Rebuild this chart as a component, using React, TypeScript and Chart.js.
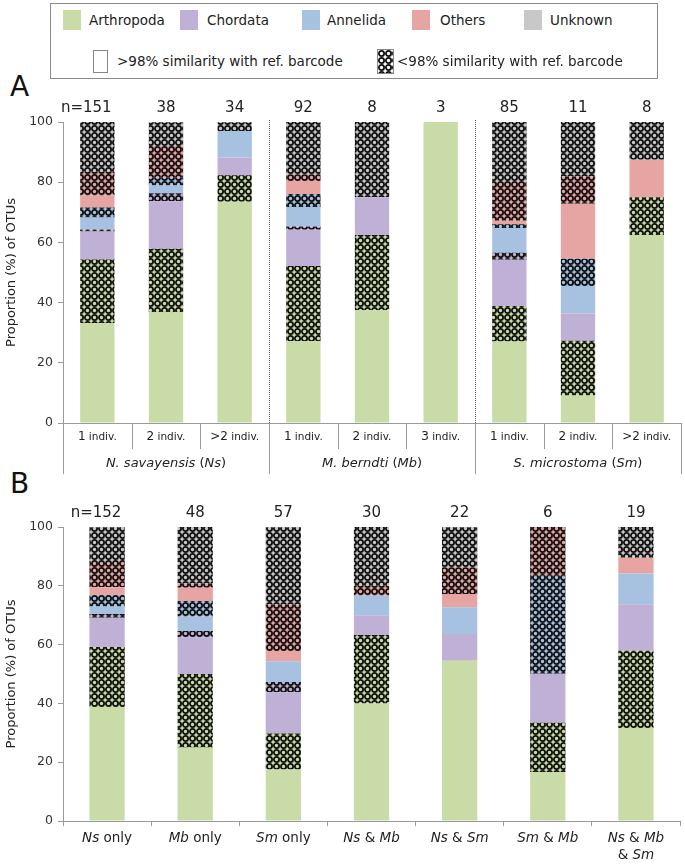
import React, { useEffect, useRef } from "react";
import { Chart, registerables } from "chart.js";

Chart.register(...registerables);

const FONT = "'DejaVu Sans', sans-serif";
const TXT = "#222";
const AXIS = "#9a9a9a";

// ---------- Panel A data (percent of OTUs) ----------
const subgroupsA = ["1", "2", ">2", "1", "2", "3", "1", "2", ">2"];
const speciesA = ["N. savayensis", "M. berndti", "S. microstoma"];
const abbrevA = ["Ns", "Mb", "Sm"];
const countsA = ["n=151", "38", "34", "92", "8", "3", "85", "11", "8"];
const arthSolidA = [33.1, 36.8, 73.5, 27.2, 37.5, 100, 27.1, 9.1, 62.5];
const arthHatchA = [21.2, 21.1, 8.8, 25.0, 25.0, 0, 11.8, 18.2, 12.5];
const chordSolidA = [9.3, 15.8, 5.9, 12.0, 12.5, 0, 15.3, 9.1, 0];
const chordHatchA = [0.7, 2.6, 0, 1.1, 0, 0, 2.4, 0, 0];
const annSolidA = [4.0, 2.6, 8.8, 6.5, 0, 0, 8.2, 9.1, 0];
const annHatchA = [3.3, 2.6, 0, 4.3, 0, 0, 1.2, 9.1, 0];
const othSolidA = [4.0, 0, 0, 4.3, 0, 0, 1.2, 18.2, 12.5];
const othHatchA = [7.9, 10.5, 0, 2.2, 0, 0, 12.9, 9.1, 0];
const unkHatchA = [16.6, 7.9, 2.9, 17.4, 25.0, 0, 20.0, 18.2, 12.5];

// ---------- Panel B data (percent of OTUs) ----------
const labelsB = [["Ns only"], ["Mb only"], ["Sm only"], ["Ns & Mb"], ["Ns & Sm"], ["Sm & Mb"], ["Ns & Mb", "& Sm"]];
const countsB = ["n=152", "48", "57", "30", "22", "6", "19"];
const arthSolidB = [38.8, 25.0, 17.5, 40.0, 54.5, 16.7, 31.6];
const arthHatchB = [20.4, 25.0, 12.3, 23.3, 0, 16.7, 26.3];
const chordSolidB = [9.9, 12.5, 14.0, 6.7, 9.1, 16.7, 15.8];
const chordHatchB = [1.3, 2.1, 3.5, 0, 0, 0, 0];
const annSolidB = [2.6, 5.0, 7.0, 6.7, 9.1, 0, 10.5];
const annHatchB = [3.9, 5.2, 0, 0, 0, 33.3, 0];
const othSolidB = [2.6, 4.5, 3.5, 0, 4.5, 0, 5.3];
const othHatchB = [8.6, 1.5, 15.8, 3.3, 9.1, 16.7, 0];
const unkHatchB = [11.8, 19.2, 26.3, 20.0, 13.6, 0, 10.5];

const yTicks = [0, 20, 40, 60, 80, 100];
const yTitle = "Proportion (%) of OTUs";
const abbrevTokens = ["Ns", "Mb", "Sm"];

const COLORS = {
  arth: "#c9dba7",
  chord: "#bfb0d5",
  ann: "#a7c1e1",
  oth: "#e6a5a3",
  unk: "#c8c8c8",
};

const legendPhyla = [
  { name: "Arthropoda", color: COLORS.arth, sx: 63, tx: 89 },
  { name: "Chordata", color: COLORS.chord, sx: 180, tx: 207 },
  { name: "Annelida", color: COLORS.ann, sx: 302, tx: 327 },
  { name: "Others", color: COLORS.oth, sx: 412, tx: 440 },
  { name: "Unknown", color: COLORS.unk, sx: 524, tx: 550 },
];

function hatchCanvas(color: string) {
  const c = document.createElement("canvas");
  c.width = 7;
  c.height = 7;
  const g = c.getContext("2d")!;
  g.fillStyle = color;
  g.fillRect(0, 0, 7, 7);
  g.strokeStyle = "#111";
  g.lineWidth = 1.8;
  g.beginPath();
  g.arc(3.5, 3.5, 2.6, 0, Math.PI * 2);
  g.stroke();
  return c;
}

function makeHatch(color: string) {
  const c = hatchCanvas(color);
  return c.getContext("2d")!.createPattern(c, "repeat")!;
}

function buildDatasets(series: number[][]) {
  const fills = [
    COLORS.arth, makeHatch(COLORS.arth),
    COLORS.chord, makeHatch(COLORS.chord),
    COLORS.ann, makeHatch(COLORS.ann),
    COLORS.oth, makeHatch(COLORS.oth),
    makeHatch(COLORS.unk),
  ];
  const names = [
    "Arthropoda >98%", "Arthropoda <98%",
    "Chordata >98%", "Chordata <98%",
    "Annelida >98%", "Annelida <98%",
    "Others >98%", "Others <98%",
    "Unknown <98%",
  ];
  return series.map((d, i) => ({
    label: names[i],
    data: d,
    backgroundColor: fills[i] as any,
    borderWidth: 0,
    stack: "s",
  }));
}

function drawCount(ctx: CanvasRenderingContext2D, label: string, cx: number, cy: number) {
  ctx.font = `15px ${FONT}`;
  ctx.fillStyle = TXT;
  ctx.textBaseline = "middle";
  if (label.startsWith("n=")) {
    const num = label.slice(2);
    ctx.textAlign = "center";
    ctx.fillText(num, cx, cy);
    const w = ctx.measureText(num).width;
    ctx.textAlign = "right";
    ctx.fillText("n=", cx - w / 2, cy);
  } else {
    ctx.textAlign = "center";
    ctx.fillText(label, cx, cy);
  }
}

function drawRuns(ctx: CanvasRenderingContext2D, runs: [string, string][], cx: number, baseline: number) {
  let total = 0;
  const ws = runs.map(([t, f]) => {
    ctx.font = f;
    const w = ctx.measureText(t).width;
    total += w;
    return w;
  });
  let x = cx - total / 2;
  ctx.textAlign = "left";
  ctx.textBaseline = "alphabetic";
  ctx.fillStyle = TXT;
  runs.forEach(([t, f], i) => {
    ctx.font = f;
    ctx.fillText(t, x, baseline);
    x += ws[i];
  });
}

function vline(ctx: CanvasRenderingContext2D, x: number, y0: number, y1: number) {
  ctx.beginPath();
  ctx.moveTo(x, y0);
  ctx.lineTo(x, y1);
  ctx.stroke();
}

const panelAPlugin = {
  id: "panelA",
  afterDraw(chart: any) {
    const { ctx, chartArea: ca } = chart;
    const x = chart.scales.x;
    const half = (x.getPixelForValue(1) - x.getPixelForValue(0)) / 2;
    ctx.save();
    countsA.forEach((t, i) => drawCount(ctx, t, x.getPixelForValue(i), ca.top - 14));
    // dotted separators between species
    ctx.strokeStyle = "#555";
    ctx.lineWidth = 1;
    ctx.setLineDash([1, 1]);
    for (const i of [3, 6]) {
      const px = Math.round(x.getPixelForValue(i) - half) + 0.5;
      vline(ctx, px, ca.top - 2, ca.bottom);
    }
    ctx.setLineDash([]);
    // table lines under the axis
    ctx.strokeStyle = AXIS;
    for (let i = 0; i <= subgroupsA.length; i++) {
      const px = Math.round(x.getPixelForValue(0) - half + i * 2 * half) + 0.5;
      const long = i % 3 === 0;
      vline(ctx, px, ca.bottom, ca.bottom + (long ? 51 : 26));
    }
    // row 1: individuals
    subgroupsA.forEach((s, i) => {
      drawRuns(ctx, [[s, `12px ${FONT}`], [" indiv.", `10.5px ${FONT}`]], x.getPixelForValue(i), ca.bottom + 17);
    });
    // row 2: species
    speciesA.forEach((sp, g) => {
      const cx = x.getPixelForValue(g * 3 + 1);
      drawRuns(
        ctx,
        [
          [sp + " ", `italic 13px ${FONT}`],
          ["(", `13px ${FONT}`],
          [abbrevA[g], `italic 13px ${FONT}`],
          [")", `13px ${FONT}`],
        ],
        cx,
        ca.bottom + 44
      );
    });
    ctx.restore();
  },
};

const panelBPlugin = {
  id: "panelB",
  afterDraw(chart: any) {
    const { ctx, chartArea: ca } = chart;
    const x = chart.scales.x;
    ctx.save();
    countsB.forEach((t, i) => drawCount(ctx, t, x.getPixelForValue(i), ca.top - 14));
    labelsB.forEach((lines, i) => {
      lines.forEach((line, li) => {
        const tokens = line.split(" ");
        const runs: [string, string][] = tokens.map((tok, ti) => [
          tok + (ti < tokens.length - 1 ? " " : ""),
          abbrevTokens.includes(tok) ? `italic 13.5px ${FONT}` : `13.5px ${FONT}`,
        ]);
        drawRuns(ctx, runs, x.getPixelForValue(i), ca.bottom + 21 + li * 17);
      });
    });
    ctx.restore();
  },
};

function makeOptions(xHeight: number, padTop: number, padRight: number, gridX: any) {
  return {
    responsive: false,
    animation: false as const,
    layout: { padding: { top: padTop, right: padRight, left: 0, bottom: 0 } },
    plugins: { legend: { display: false }, tooltip: { enabled: false } },
    scales: {
      x: {
        stacked: true,
        ticks: { display: false },
        grid: gridX,
        border: { display: true, color: AXIS },
        afterFit: (s: any) => {
          s.height = xHeight;
        },
      },
      y: {
        stacked: true,
        min: 0,
        max: 100,
        afterBuildTicks: (s: any) => {
          s.ticks = yTicks.map((v) => ({ value: v }));
        },
        ticks: {
          font: { family: FONT, size: 12.5 },
          color: "#333",
          padding: 5,
        },
        grid: { display: true, drawOnChartArea: false, drawTicks: true, tickLength: 5, color: AXIS },
        border: { display: true, color: AXIS },
        title: {
          display: true,
          text: yTitle,
          font: { family: FONT, size: 13 },
          color: TXT,
          padding: { top: 4, bottom: 0 },
        },
        afterFit: (s: any) => {
          s.width = 63;
        },
      },
    },
  };
}

function LegendHatch() {
  const ref = useRef<HTMLCanvasElement>(null);
  useEffect(() => {
    const g = ref.current!.getContext("2d")!;
    g.fillStyle = g.createPattern(hatchCanvas("#ffffff"), "repeat")!;
    g.fillRect(0, 0, 15, 23);
  }, []);
  return (
    <canvas
      ref={ref}
      width={15}
      height={23}
      style={{ position: "absolute", left: 378, top: 50, width: 15, height: 23, outline: "1px solid #888" }}
    />
  );
}

export default function App() {
  const refA = useRef<HTMLCanvasElement>(null);
  const refB = useRef<HTMLCanvasElement>(null);

  useEffect(() => {
    const chartA = new Chart(refA.current!, {
      type: "bar",
      data: {
        labels: subgroupsA.map((s) => s + " indiv."),
        datasets: buildDatasets([
          arthSolidA, arthHatchA, chordSolidA, chordHatchA, annSolidA, annHatchA, othSolidA, othHatchA, unkHatchA,
        ]).map((d) => ({ ...d, barPercentage: 0.5, categoryPercentage: 1 })),
      },
      options: makeOptions(72, 32, 4, { display: false }) as any,
      plugins: [panelAPlugin],
    });
    const chartB = new Chart(refB.current!, {
      type: "bar",
      data: {
        labels: labelsB.map((l) => l.join(" ")),
        datasets: buildDatasets([
          arthSolidB, arthHatchB, chordSolidB, chordHatchB, annSolidB, annHatchB, othSolidB, othHatchB, unkHatchB,
        ]).map((d) => ({ ...d, barPercentage: 0.4, categoryPercentage: 1 })),
      },
      options: makeOptions(47, 30, 5, {
        display: true,
        offset: true,
        drawOnChartArea: false,
        drawTicks: true,
        tickLength: 5,
        color: AXIS,
      }) as any,
      plugins: [panelBPlugin],
    });
    return () => {
      chartA.destroy();
      chartB.destroy();
    };
  }, []);

  const textStyle: React.CSSProperties = {
    position: "absolute",
    fontFamily: FONT,
    fontSize: 13.5,
    color: TXT,
    whiteSpace: "nowrap",
    lineHeight: "20px",
  };

  return (
    <div style={{ position: "absolute", left: 0, top: 0, width: 685, height: 868, background: "#fff", overflow: "hidden" }}>
      {/* Legend */}
      <div style={{ position: "absolute", left: 50, top: 3, width: 606, height: 74, border: "1px solid #8a8a8a" }} />
      {legendPhyla.map((p) => (
        <React.Fragment key={p.name}>
          <div style={{ position: "absolute", left: p.sx, top: 10, width: 18, height: 20, background: p.color }} />
          <div style={{ ...textStyle, left: p.tx, top: 10 }}>{p.name}</div>
        </React.Fragment>
      ))}
      <div style={{ position: "absolute", left: 93, top: 50, width: 13, height: 21, border: "1px solid #888", background: "#fff" }} />
      <div style={{ ...textStyle, left: 117, top: 51 }}>&gt;98% similarity with ref. barcode</div>
      <LegendHatch />
      <div style={{ ...textStyle, left: 397, top: 51 }}>&lt;98% similarity with ref. barcode</div>

      {/* Panel letters */}
      <div style={{ position: "absolute", left: 10, top: 72, fontFamily: FONT, fontSize: 28, color: "#111", lineHeight: "30px" }}>A</div>
      <div style={{ position: "absolute", left: 10, top: 469, fontFamily: FONT, fontSize: 28, color: "#111", lineHeight: "30px" }}>B</div>

      <canvas ref={refA} width={685} height={405} style={{ position: "absolute", left: 0, top: 90, width: 685, height: 405 }} />
      <canvas ref={refB} width={685} height={371} style={{ position: "absolute", left: 0, top: 497, width: 685, height: 371 }} />
    </div>
  );
}
